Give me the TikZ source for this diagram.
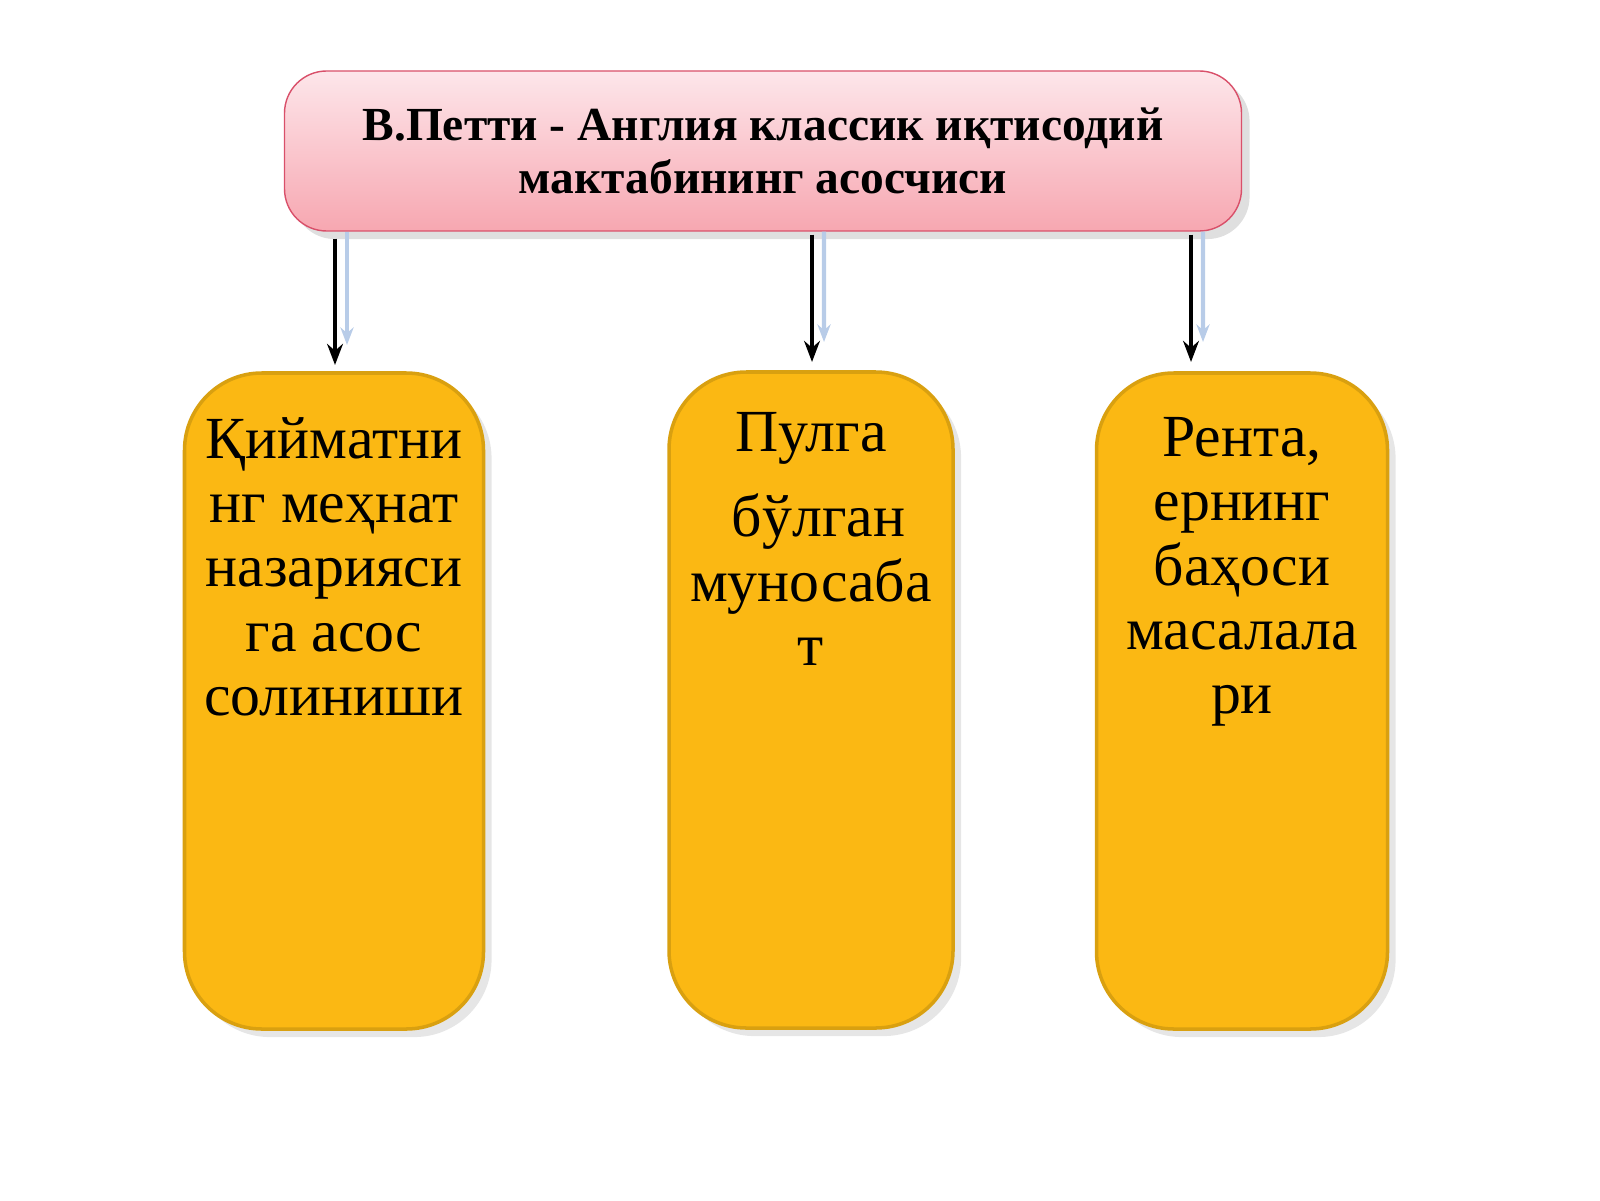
\documentclass[tikz,border=0pt]{standalone}
\usepackage{fontspec}
\setmainfont{Liberation Serif}
\usetikzlibrary{positioning}
\usetikzlibrary{arrows.meta}
\usetikzlibrary{shadows}
\definecolor{pinktop}{HTML}{FDE6EA}
\definecolor{pinkbot}{HTML}{F7A7B1}
\definecolor{pinkline}{HTML}{D9506A}
\definecolor{goldfill}{HTML}{FBB813}
\definecolor{goldline}{HTML}{D9A010}
\definecolor{paleblue}{HTML}{B8CCE8}
\tikzset{
  headbox/.style={draw=pinkline, rounded corners=12pt, top color=pinktop, bottom color=pinkbot,
    minimum width=9.57cm, minimum height=1.6cm, font=\fontsize{13.5}{15}\selectfont\bfseries,
    align=center, drop shadow={opacity=0.25}},
  topicbox/.style={draw=goldline, line width=1pt, fill=goldfill, rounded corners=22pt,
    minimum height=6.56cm, drop shadow={opacity=0.2}},
  topictext/.style={anchor=north, align=center, font=\fontsize{17}{18.3}\selectfont},
  link/.style={-{Stealth[length=6pt]}, line width=1.2pt},
  ghost/.style={paleblue, line width=1.2pt, -{Stealth[length=5pt]}}
}
\begin{document}
\begin{tikzpicture}
  \useasboundingbox (0,0) rectangle (16,12);

  \node[headbox] (head) at (7.63,10.49) {В.Петти - Англия классик иқтисодий\\мактабининг асосчиси};

  \node[topicbox, minimum width=2.99cm] (value) at (3.34,4.99) {};
  \node[topicbox, minimum width=2.84cm] (money) at (8.11,5.00) {};
  \node[topicbox, minimum width=2.91cm] (rent) at (12.42,4.99) {};

  \node[topictext] (valuetxt) at (3.34,7.95) {Қийматни\\нг меҳнат\\назарияси\\га асос\\солиниши};
  \node[topictext] (moneytxt) at (8.11,8.00) {Пулга\\[6pt]\ бўлган\\муносаба\\т};
  \node[topictext] (renttxt) at (12.42,7.95) {Рента,\\ернинг\\баҳоси\\масалала\\ри};

  \coordinate (v1) at (3.35,8.35);
  \coordinate (m1) at (8.12,8.38);
  \coordinate (r1) at (11.91,8.38);

  \draw[ghost] (head.south -| 3.47,0) -- ([xshift=0.12cm,yshift=0.2cm]v1);
  \draw[ghost] (head.south -| 8.24,0) -- ([xshift=0.12cm,yshift=0.2cm]m1);
  \draw[ghost] (head.south -| 12.03,0) -- ([xshift=0.12cm,yshift=0.2cm]r1);

  \draw[link] ([yshift=-0.07cm]head.south -| v1) -- (v1);
  \draw[link] ([yshift=-0.03cm]head.south -| m1) -- (m1);
  \draw[link] ([yshift=-0.03cm]head.south -| r1) -- (r1);
\end{tikzpicture}
\end{document}
